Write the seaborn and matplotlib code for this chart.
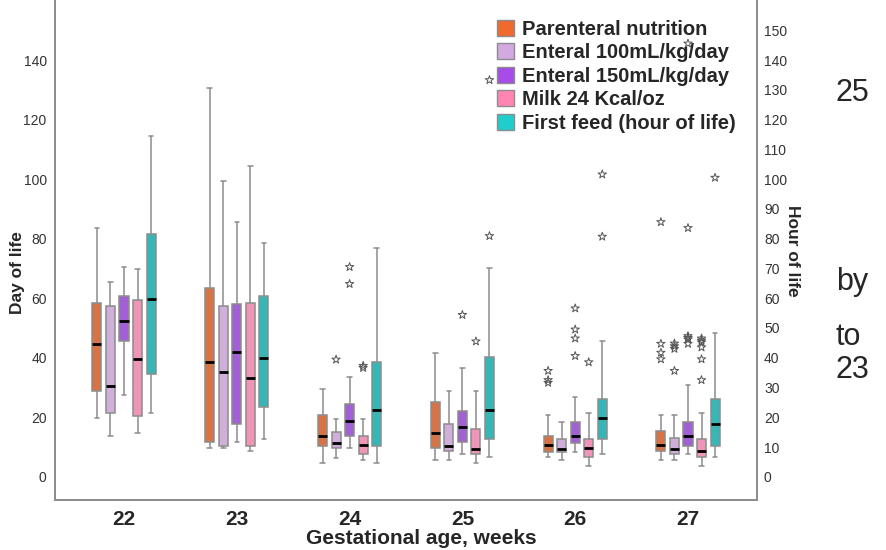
import numpy as np
import pandas as pd
import matplotlib
matplotlib.use("Agg")
import matplotlib.pyplot as plt
from matplotlib.patches import Patch
import seaborn as sns

# Gestational age groups (weeks)
weeks = ["22", "23", "24", "25", "26", "27"]

series = [
    "Parenteral nutrition",
    "Enteral 100mL/kg/day",
    "Enteral 150mL/kg/day",
    "Milk 24 Kcal/oz",
    "First feed (hour of life)",
]
colors = ["#EF6A2C", "#D3A9E2", "#A54CE9", "#FF86B4", "#20CCCC"]

# Box summaries per week: [whisker low, Q1, median, Q3, whisker high]
parenteral = [
    [19.6, 28.8, 44.6, 58.5, 83.7],
    [9.7, 11.7, 38.5, 63.5, 130.6],
    [4.5, 10.5, 13.6, 20.6, 29.5],
    [5.7, 9.6, 14.7, 25.1, 41.7],
    [6.5, 8.4, 10.7, 13.7, 20.6],
    [5.6, 8.5, 10.6, 15.5, 20.6],
]
enteral_100 = [
    [13.7, 21.6, 30.6, 57.5, 65.5],
    [9.7, 10.5, 35.1, 57.5, 99.5],
    [6.4, 9.6, 11.2, 15.1, 19.5],
    [5.7, 8.6, 10.5, 17.6, 28.7],
    [5.6, 8.4, 9.5, 12.6, 18.5],
    [5.6, 7.6, 9.5, 13.1, 20.7],
]
enteral_150 = [
    [27.5, 45.6, 52.5, 60.6, 70.6],
    [11.7, 17.6, 42.0, 58.0, 85.6],
    [9.6, 13.6, 18.6, 24.5, 33.6],
    [7.7, 11.7, 16.6, 22.1, 36.5],
    [8.4, 11.4, 13.7, 18.5, 26.7],
    [7.6, 10.4, 13.6, 18.4, 30.7],
]
milk_24 = [
    [14.6, 20.5, 39.5, 59.4, 69.7],
    [8.6, 10.5, 33.1, 58.5, 104.5],
    [5.7, 7.6, 10.7, 13.6, 19.5],
    [4.5, 7.6, 9.4, 15.9, 28.7],
    [3.7, 6.5, 9.8, 12.6, 21.5],
    [3.7, 6.5, 8.6, 12.6, 21.5],
]
first_feed = [
    [21.6, 34.6, 59.6, 81.6, 114.5],
    [12.7, 23.5, 40.0, 60.6, 78.4],
    [4.5, 10.5, 22.5, 38.5, 76.8],
    [6.5, 12.6, 22.6, 40.3, 70.1],
    [7.6, 12.6, 19.6, 26.1, 45.6],
    [6.5, 10.4, 17.6, 26.0, 48.4],
]

# Extreme values per week
parenteral_out = [[], [], [], [], [35.6, 32.5, 31.6], [85.6, 44.7, 41.7, 39.5]]
enteral_100_out = [[], [], [39.4], [], [], [44.8, 43.9, 43.0, 35.6]]
enteral_150_out = [[], [], [70.5, 64.8], [54.4], [56.6, 49.5, 46.5, 40.6],
                   [145.6, 83.6, 47.3, 46.7, 46.2, 44.7]]
milk_24_out = [[], [], [37.3, 36.6], [45.5], [38.5],
               [46.5, 45.8, 45.2, 43.5, 39.5, 32.5]]
first_feed_out = [[], [], [], [133.3, 80.9], [101.6, 80.7], [100.5]]

day_ticks = list(range(0, 141, 20))
hour_ticks = list(range(0, 151, 10))

summaries = [parenteral, enteral_100, enteral_150, milk_24, first_feed]
extremes = [parenteral_out, enteral_100_out, enteral_150_out, milk_24_out, first_feed_out]

rows = []
for name, summ in zip(series, summaries):
    for wk, vals in zip(weeks, summ):
        for v in vals:
            rows.append({"week": wk, "series": name, "value": v})
df = pd.DataFrame(rows)

box_width = 0.6
step = box_width / len(series)
out_rows = []
for si, outs in enumerate(extremes):
    for wi, vals in enumerate(outs):
        for v in vals:
            out_rows.append({"pos": wi + (si - (len(series) - 1) / 2) * step, "value": v})
out_df = pd.DataFrame(out_rows)

sns.set_theme(style="white")
plt.rcParams["font.family"] = ["Liberation Sans", "DejaVu Sans"]

fig = plt.figure(figsize=(8.87, 5.5), dpi=100)
ax = fig.add_axes([55 / 887, 50 / 550, 702 / 887, 500 / 550])

grey = "#8c8c8c"
sns.boxplot(
    data=df, x="week", y="value", hue="series", order=weeks, hue_order=series,
    palette=colors, whis=np.inf, width=box_width, gap=0.33, linecolor=grey,
    linewidth=1.1, fliersize=0, legend=False, ax=ax,
    medianprops=dict(color="black", linewidth=2),
)
sns.scatterplot(
    data=out_df, x="pos", y="value", marker="*", s=40, facecolors="none",
    edgecolor="#555555", linewidth=0.7, ax=ax, legend=False,
)

ylim = (-7.8, 160.2)
ax.set_ylim(*ylim)
ax.set_xlim(-0.612, 5.612)
ax.set_yticks(day_ticks)
ax.set_yticklabels([str(t) for t in day_ticks], fontsize=10, color="#333333")
ax.set_xticks(range(len(weeks)))
ax.set_xticklabels(weeks, fontsize=15, fontweight="bold")
ax.tick_params(axis="x", length=0, pad=7)
ax.tick_params(axis="y", length=0, pad=6)
ax.set_xlabel("Gestational age, weeks", fontsize=15, fontweight="bold")
ax.xaxis.set_label_coords((421 - 55) / 702, -0.077)
ax.xaxis.label.set_va("center")
ax.set_ylabel("")

ax2 = ax.twinx()
ax2.set_ylim(*ylim)
ax2.set_yticks(hour_ticks)
ax2.set_yticklabels([str(t) for t in hour_ticks], fontsize=10, color="#333333")
ax2.tick_params(axis="y", length=0, pad=5)

for a in (ax, ax2):
    a.spines["top"].set_visible(False)
    for s in ("left", "right", "bottom"):
        a.spines[s].set_color(grey)
        a.spines[s].set_linewidth(1.3)

fig.text(18 / 887, 1 - 273 / 550, "Day of life", rotation=90, ha="center",
         va="center", fontsize=12.5, fontweight="bold")
fig.text(793 / 887, 1 - 251 / 550, "Hour of life", rotation=270, ha="center",
         va="center", fontsize=12.5, fontweight="bold")

handles = [Patch(facecolor=c, edgecolor=grey, linewidth=1) for c in colors]
fig.legend(
    handles, series, loc="upper left", bbox_to_anchor=(497 / 887, 1 - 20 / 550),
    frameon=False, borderpad=0, borderaxespad=0, handlelength=0.85,
    handleheight=0.85, handletextpad=0.4, labelspacing=0.22,
    prop={"weight": "bold", "size": 14.5},
)

for txt, y in [("25", 101), ("by", 290), ("to", 345), ("23", 378)]:
    fig.text(836 / 887, 1 - y / 550, txt, fontsize=22, ha="left", va="baseline")

fig.savefig("out.png", dpi=100)
